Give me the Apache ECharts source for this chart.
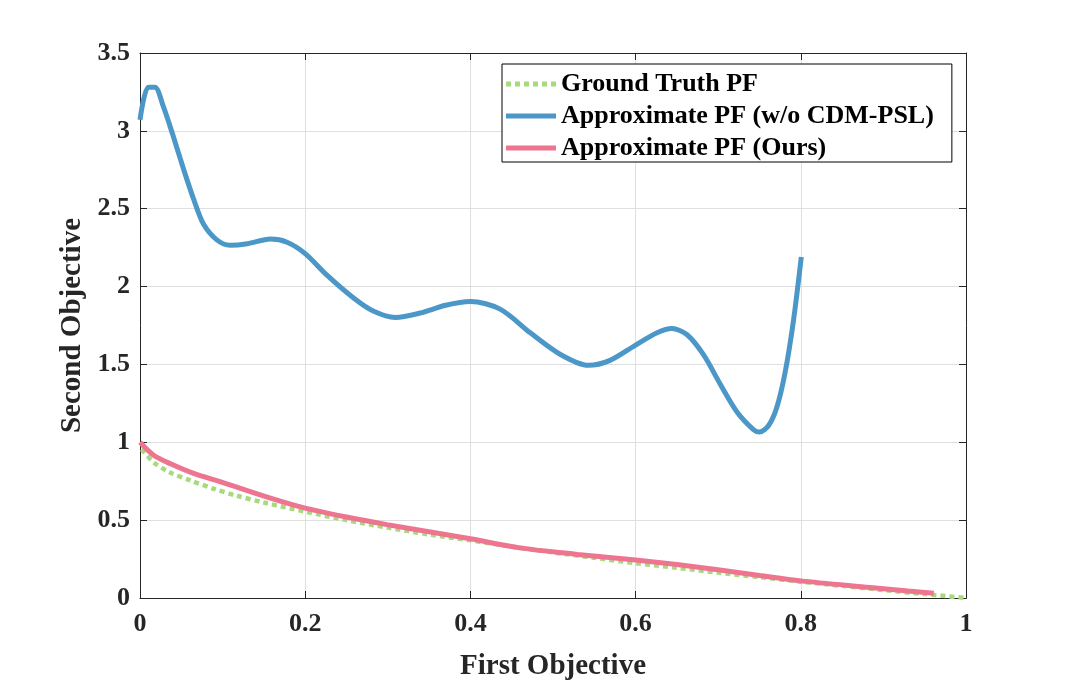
<!DOCTYPE html>
<html>
<head>
<meta charset="utf-8">
<script src="https://cdn.jsdelivr.net/npm/echarts@6/dist/echarts.min.js"></script>
<style>
  html, body { margin: 0; padding: 0; background: #fff; }
  #chart { width: 1068px; height: 686px; }
</style>
</head>
<body>
<div id="chart"></div>
<script>
// 数据
const seriesNames = ['Ground Truth PF', 'Approximate PF (w/o CDM-PSL)', 'Approximate PF (Ours)'];

const gtX = [0.002, 0.016, 0.035, 0.061, 0.09, 0.117, 0.15, 0.2, 0.25, 0.3, 0.35, 0.4, 0.45, 0.5, 0.55, 0.6, 0.65, 0.7, 0.75, 0.8, 0.85, 0.9, 0.95, 1.0];
const gtY = [0.955, 0.874, 0.81, 0.755, 0.70, 0.657, 0.613, 0.555, 0.50, 0.452, 0.408, 0.37, 0.33, 0.293, 0.258, 0.224, 0.194, 0.163, 0.134, 0.105, 0.078, 0.051, 0.025, 0.0];

const woX = [0.0, 0.010, 0.018, 0.028, 0.040, 0.053, 0.065, 0.077, 0.093, 0.109, 0.130, 0.158, 0.178, 0.200, 0.226, 0.259, 0.283, 0.309, 0.339, 0.370, 0.400, 0.436, 0.4725, 0.509, 0.543, 0.569, 0.600, 0.626, 0.644, 0.662, 0.682, 0.7025, 0.723, 0.743, 0.750, 0.761, 0.771, 0.781, 0.791, 0.8006];
const woY = [3.07, 3.28, 3.28, 3.16, 2.97, 2.75, 2.56, 2.40, 2.30, 2.265, 2.275, 2.305, 2.285, 2.212, 2.075, 1.925, 1.841, 1.802, 1.83, 1.88, 1.904, 1.855, 1.703, 1.564, 1.494, 1.526, 1.624, 1.703, 1.730, 1.692, 1.564, 1.373, 1.193, 1.080, 1.066, 1.108, 1.225, 1.448, 1.777, 2.19];

const oursX = [0.0, 0.0165, 0.037, 0.065, 0.097, 0.158, 0.2, 0.25, 0.299, 0.35, 0.4, 0.46, 0.53, 0.6, 0.65, 0.702, 0.75, 0.8, 0.884, 0.93, 0.961];
const oursY = [1.0, 0.917, 0.862, 0.80, 0.747, 0.641, 0.577, 0.52, 0.471, 0.425, 0.38, 0.322, 0.28, 0.244, 0.215, 0.18, 0.145, 0.11, 0.068, 0.045, 0.03];

const xTicks = { min: 0, max: 1, interval: 0.2 };
const yTicks = { min: 0, max: 3.5, interval: 0.5 };

const zip = (xs, ys) => xs.map((x, i) => [x, ys[i]]);

const serif = '"Liberation Serif", "Times New Roman", serif';
const tickColor = '#262626';
const colors = ['#a6da7c', '#4a97c8', '#ee7590'];

// dotted legend sample: six short dashes across the icon box
const dotIcon = 'path://M0,0h5v5h-5z M9,0h5v5h-5z M18,0h5v5h-5z M27,0h5v5h-5z M36,0h5v5h-5z M45,0h5v5h-5z';

const chart = echarts.init(document.getElementById('chart'));

const baseAxis = {
    type: 'value',
    axisLine: { show: true, onZero: false, lineStyle: { color: '#262626', width: 1 } },
    axisTick: { show: true, inside: true, length: 7, lineStyle: { color: '#262626' } },
    splitLine: { show: false },
    axisLabel: { show: false }
};

const option = {
    animation: false,
    backgroundColor: '#fff',
    grid: { left: 140, right: 102, top: 53, bottom: 84, containLabel: false },
    legend: {
        orient: 'vertical',
        left: 502,
        top: 64,
        padding: [7, 18, 1, 4],
        itemGap: 6,
        itemWidth: 50,
        itemHeight: 5,
        backgroundColor: '#fff',
        borderColor: '#000',
        borderWidth: 1,
        borderRadius: 0,
        textStyle: { fontFamily: serif, fontWeight: 'bold', fontSize: 26, color: '#000' },
        data: [
            { name: seriesNames[0], icon: dotIcon },
            { name: seriesNames[1], icon: 'rect' },
            { name: seriesNames[2], icon: 'rect' }
        ]
    },
    xAxis: [
        Object.assign({}, baseAxis, {
            position: 'bottom',
            min: xTicks.min, max: xTicks.max, interval: xTicks.interval,
            name: 'First Objective',
            nameLocation: 'middle',
            nameGap: 54,
            nameTextStyle: { fontFamily: serif, fontWeight: 'bold', fontSize: 29, color: tickColor },
            splitLine: { show: true, lineStyle: { color: '#dfdfdf', width: 1 } },
            axisLabel: { show: true, margin: 13, fontFamily: serif, fontWeight: 'bold', fontSize: 26, color: tickColor }
        }),
        Object.assign({}, baseAxis, {
            position: 'top',
            min: xTicks.min, max: xTicks.max, interval: xTicks.interval
        })
    ],
    yAxis: [
        Object.assign({}, baseAxis, {
            position: 'left',
            min: yTicks.min, max: yTicks.max, interval: yTicks.interval,
            name: 'Second Objective',
            nameLocation: 'middle',
            nameGap: 53,
            nameTextStyle: { fontFamily: serif, fontWeight: 'bold', fontSize: 29, color: tickColor },
            splitLine: { show: true, lineStyle: { color: '#dfdfdf', width: 1 } },
            axisLabel: { show: true, margin: 10, fontFamily: serif, fontWeight: 'bold', fontSize: 26, color: tickColor }
        }),
        Object.assign({}, baseAxis, {
            position: 'right',
            min: yTicks.min, max: yTicks.max, interval: yTicks.interval
        })
    ],
    series: [
        {
            name: seriesNames[0],
            type: 'line',
            symbol: 'none',
            smooth: 0.3,
            z: 3,
            lineStyle: { color: colors[0], width: 4.5, type: [5, 4], cap: 'butt' },
            itemStyle: { color: colors[0] },
            data: zip(gtX, gtY)
        },
        {
            name: seriesNames[1],
            type: 'line',
            symbol: 'none',
            smooth: 0.3,
            z: 4,
            lineStyle: { color: colors[1], width: 5 },
            itemStyle: { color: colors[1] },
            data: zip(woX, woY)
        },
        {
            name: seriesNames[2],
            type: 'line',
            symbol: 'none',
            smooth: 0.3,
            z: 4,
            lineStyle: { color: colors[2], width: 5 },
            itemStyle: { color: colors[2] },
            data: zip(oursX, oursY)
        }
    ]
};

chart.setOption(option);
</script>
</body>
</html>
